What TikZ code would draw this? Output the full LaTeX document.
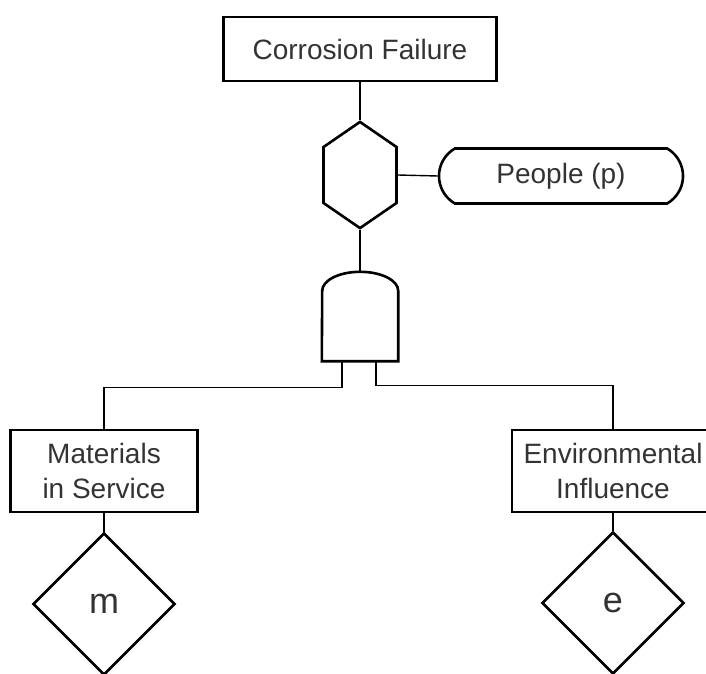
\documentclass[tikz,border=0pt]{standalone}
\usepackage{fontspec}
\setmainfont{Liberation Sans}
\usepackage{tikz}
\usetikzlibrary{positioning,shapes.geometric,shapes.misc,shapes.symbols}

\begin{document}
\begin{tikzpicture}[
  x=1pt, y=1pt,
  every node/.style={font=\fontsize{28}{35}\selectfont, text=black!80, inner sep=0pt},
  event/.style={draw, rectangle, line width=2.6pt, align=center},
  inhibit/.style={draw, signal, signal to=north and south, signal pointer angle=111,
    minimum width=73, minimum height=56, line width=2.6pt},
  condition/.style={draw, rounded rectangle, rounded rectangle arc length=120,
    minimum width=244, minimum height=55, line width=2.6pt},
  undeveloped/.style={draw, diamond, minimum width=142, minimum height=142,
    line width=2.6pt, font=\fontsize{36}{40}\selectfont},
  link/.style={draw, line width=1.4pt}
]
\clip (0,0) rectangle (706,673);

\node[event, minimum width=273, minimum height=64] (top) at (360,624) {Corrosion Failure};
\node[inhibit] (hex) at (360,498) {};
\node[condition] (people) at (561,497) {People (p)};
\node[minimum width=76, minimum height=89] (gate) at (360,356.5) {};
\node[event, minimum width=187, minimum height=82] (mat) at (104,202) {Materials\\in Service};
\node[event, minimum width=202, minimum height=82] (env) at (613,202) {Environmental\\Influence};
\node[undeveloped] (m) at (104,69) {m};
\node[undeveloped] (e) at (613,70) {e};

% and gate
\draw[line width=2.6pt] (gate.south west) -- (gate.south east)
  -- ([yshift=-19]gate.north east) arc[start angle=0, end angle=180, x radius=38, y radius=19]
  -- cycle;

\draw[link] (top.south) -- (hex.north);
\draw[link] (hex.east) -- (people.west);
\draw[link] (hex.south) -- (gate.north);
\draw[link] ([xshift=-18]gate.south) -- ++(0,-26) -| (mat.north);
\draw[link] ([xshift=16]gate.south) -- ++(0,-24) -| (env.north);
\draw[link] (mat.south) -- (m.north);
\draw[link] (env.south) -- (e.north);

\end{tikzpicture}
\end{document}
